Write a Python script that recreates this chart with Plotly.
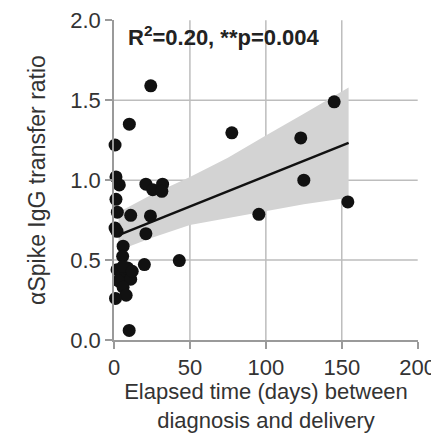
import plotly.graph_objects as go

days = [0.7, 10.1, 24.2, 1.3, 3.5, 21, 25.5, 32, 31.5, 1.3, 2.2, 11, 24, 0.7, 2, 21, 6, 5.7, 20, 43,
        2, 5, 8, 11, 3, 9, 6, 12, 6, 8, 1, 10, 77.6, 123, 145, 125, 154, 95.4]
ratio = [1.22, 1.35, 1.59, 1.02, 0.97, 0.975, 0.94, 0.975, 0.93, 0.88, 0.80, 0.78, 0.776, 0.70, 0.68, 0.665, 0.587, 0.524, 0.472, 0.497,
         0.44, 0.40, 0.42, 0.38, 0.37, 0.45, 0.46, 0.43, 0.33, 0.28, 0.26, 0.06, 1.296, 1.264, 1.49, 1.0, 0.864, 0.786]

# fitted line and its 95% band
fit_days = [3, 154.5]
fit_ratio = [0.656, 1.233]
band_days = [3, 25, 50, 75, 100, 125, 154.5]
band_upper = [0.80, 0.91, 1.02, 1.14, 1.28, 1.415, 1.58]
band_lower = [0.56, 0.64, 0.72, 0.765, 0.807, 0.85, 0.89]

x_ticks = [0, 50, 100, 150, 200]
y_ticks = [0.0, 0.5, 1.0, 1.5, 2.0]

grid = "#bdbdbd"
axis_col = "#9a9a9a"
font = "Liberation Sans, Arial, sans-serif"

fig = go.Figure()
fig.add_trace(go.Scatter(
    x=band_days + band_days[::-1],
    y=band_upper + band_lower[::-1],
    fill="toself", fillcolor="#d3d3d3", line={"width": 0},
    mode="lines", hoverinfo="skip", showlegend=False,
))
fig.add_trace(go.Scatter(
    x=days, y=ratio, mode="markers", cliponaxis=False,
    marker={"size": 13, "color": "#111111"}, showlegend=False,
))
fig.add_trace(go.Scatter(
    x=fit_days, y=fit_ratio, mode="lines", line={"color": "#111111", "width": 2.5},
    showlegend=False,
))

for v in x_ticks[1:-1]:
    fig.add_shape(type="line", x0=v, x1=v, y0=0, y1=2, xref="x", yref="y",
                  line={"color": grid, "width": 1.5}, layer="below")
for v in y_ticks[1:-1]:
    fig.add_shape(type="line", x0=0, x1=200, y0=v, y1=v, xref="x", yref="y",
                  line={"color": grid, "width": 1.5}, layer="below")

fig.add_annotation(
    x=0.04, y=1.0, xref="paper", yref="paper", xanchor="left", yanchor="top",
    text="<b>R<sup>2</sup>=0.20, **p=0.004</b>", showarrow=False,
    font={"size": 22, "color": "#222222", "family": font},
)

# page body has an 8px margin, so the figure is 8px smaller than the window
fig.update_layout(
    width=431, height=425,
    margin={"l": 106, "r": 21, "t": 12, "b": 93},
    plot_bgcolor="white", paper_bgcolor="white",
    font={"family": font, "size": 22, "color": "#333333"},
    xaxis={
        "range": [0, 200.2], "tickvals": x_ticks, "showgrid": False, "zeroline": False,
        "showline": True, "linecolor": axis_col, "linewidth": 1.5, "automargin": False,
        "ticks": "outside", "ticklen": 7, "tickcolor": axis_col, "tickwidth": 1.5,
        "title": {"text": "Elapsed time (days) between<br>diagnosis and delivery",
                  "font": {"size": 22}, "standoff": 4},
    },
    yaxis={
        "range": [0, 2.002], "tickvals": y_ticks, "tickformat": ".1f", "showgrid": False,
        "zeroline": False, "showline": True, "linecolor": axis_col, "linewidth": 1.5,
        "automargin": False,
        "ticks": "outside", "ticklen": 7, "tickcolor": axis_col, "tickwidth": 1.5,
        "title": {"text": "αSpike IgG transfer ratio", "font": {"size": 23}, "standoff": 18},
    },
)

fig.write_html("out.html")
